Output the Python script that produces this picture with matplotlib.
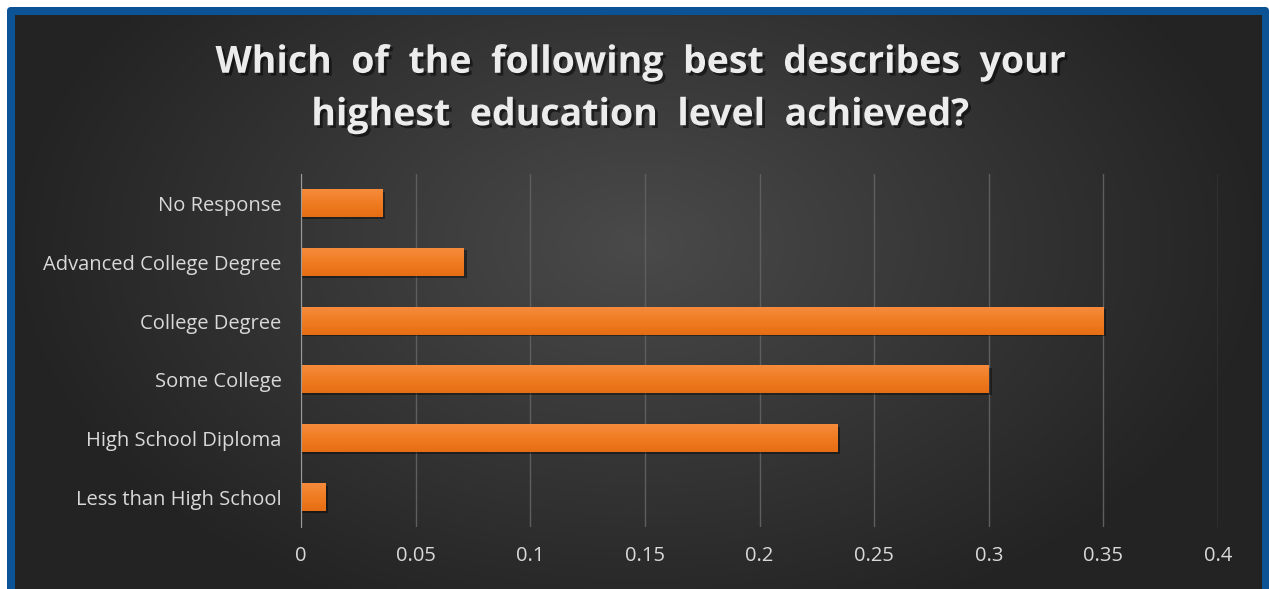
import numpy as np
import matplotlib
matplotlib.use('Agg')
import matplotlib.pyplot as plt
import matplotlib.patheffects as pe
from matplotlib.patches import FancyBboxPatch

categories = ['Less than High School', 'High School Diploma', 'Some College',
              'College Degree', 'Advanced College Degree', 'No Response']
shares = [0.0105, 0.234, 0.300, 0.350, 0.071, 0.0355]
x_ticks = [0, 0.05, 0.1, 0.15, 0.2, 0.25, 0.3, 0.35, 0.4]
x_tick_labels = ['0', '0.05', '0.1', '0.15', '0.2', '0.25', '0.3', '0.35', '0.4']
title = 'Which  of  the  following  best  describes  your\nhighest  education  level  achieved?'

W, H = 1269, 589
fig = plt.figure(figsize=(W / 100, H / 100), dpi=100)
fig.patch.set_facecolor('white')

# frame: blue border plus dark radial gradient
bg = fig.add_axes([0, 0, 1, 1])
bg.axis('off')
bg.add_patch(FancyBboxPatch((7, 7), W - 7, H, boxstyle='round,pad=0,rounding_size=4',
                            fc='#0b5395', ec='none', zorder=1))
gx, gy = np.meshgrid(np.linspace(-1, 1, 400), np.linspace(-1, 1, 200))
r = np.sqrt((gx / 1.0) ** 2 + ((gy + 0.2) / 1.4) ** 2)
shade = np.clip(0.29 - 0.15 * r, 0.14, 0.29)
img = np.dstack([shade, shade, shade])
bg.imshow(img, extent=[15, 1262, H, 15], aspect='auto', interpolation='bicubic', zorder=2)
bg.set_xlim(0, W)
bg.set_ylim(H, 0)

fig.text(640 / W, 1 - 89 / H, title, ha='center', va='center', color='#ececec',
         fontsize=27, fontweight='bold', family='Open Sans', linespacing=1.5,
         path_effects=[pe.withSimplePatchShadow(offset=(2, -2), shadow_rgbFace='black', alpha=0.5)])

ax = fig.add_axes([301 / W, 1 - 527 / H, 917 / W, 353 / H])
ax.patch.set_alpha(0)
y = np.arange(len(categories))

# shadow, then the bar with a vertical orange gradient
ax.barh(y - 0.03, [v + 0.0012 for v in shares], height=0.46, left=0.0, color='black', alpha=0.4, zorder=2)
grad = np.linspace(0, 1, 50).reshape(-1, 1)
cmap = matplotlib.colors.LinearSegmentedColormap.from_list('bar', ['#f68b3c', '#f07c22', '#e66d14'])
for yi, v in zip(y, shares):
    ax.imshow(grad, extent=[0, v, yi - 0.23, yi + 0.23], origin='lower', cmap=cmap.reversed(),
              aspect='auto', zorder=3)

ax.set_xlim(0, 0.4)
ax.set_ylim(-0.5, len(categories) - 0.5)
ax.set_xticks(x_ticks)
ax.set_xticklabels(x_tick_labels)
ax.set_yticks(y)
ax.set_yticklabels(categories)
ax.grid(axis='x', color='#5e5e5e', linewidth=1, zorder=1)
ax.set_axisbelow(True)
for s in ['top', 'right', 'bottom']:
    ax.spines[s].set_visible(False)
ax.spines['left'].set_color('#9a9a9a')
ax.spines['left'].set_zorder(4)
ax.tick_params(axis='both', length=0, colors='#d9d9d9', labelsize=14.5)
ax.tick_params(axis='y', pad=14)
ax.tick_params(axis='x', pad=14)
for lbl in ax.get_xticklabels() + ax.get_yticklabels():
    lbl.set_family('Open Sans')

fig.savefig('out.png', dpi=100)
